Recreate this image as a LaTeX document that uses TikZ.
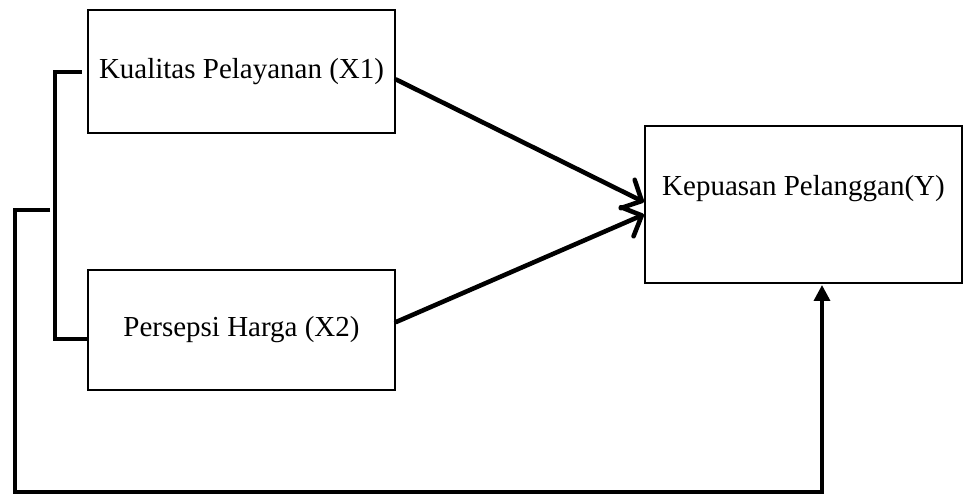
\documentclass[tikz,border=0pt]{standalone}
\usepackage{fontspec}
\setmainfont{Liberation Serif}
\usetikzlibrary{positioning,arrows.meta}
\tikzstyle{diagram} = [x = 0.02cm, y = -0.02cm, every node/.style={font=\fontsize{16.5}{20}\selectfont}]
\tikzstyle{boxStyle} = [draw, line width=1.3pt, rectangle, inner sep=0pt]
\tikzstyle{arrowStyle} = [line width=2.6pt, line cap=round, -{Straight Barb[length=9pt, width=18pt, line width=2.6pt, round]}]
\tikzstyle{bracketStyle} = [line width=2.1pt]
\tikzstyle{feedbackStyle} = [line width=2pt, -{Triangle[length=9pt, width=9pt]}]

\begin{document}
\begin{tikzpicture}[diagram]
      \useasboundingbox (0,0) rectangle (963,497);

      \node [boxStyle, minimum width=6.14cm, minimum height=2.46cm] (kualitas) at (241.5,71.5) {Kualitas Pelayanan (X1)};
      \node [boxStyle, minimum width=6.14cm, minimum height=2.4cm] (harga) at (241.5,330) {Persepsi Harga (X2)};
      \node [boxStyle, minimum width=6.34cm, minimum height=3.14cm] (kepuasan) at (803.5,204.5) {};
      \node (kepuasanText) at (803.5,189) {Kepuasan Pelanggan(Y)};

      \coordinate (bracketTop) at (52,72);
      \coordinate (bracketBottom) at (55,339);
      \coordinate (feedbackStart) at (50,210);
      \coordinate (feedbackCorner) at (822,492);

      \draw [arrowStyle] ([yshift=-0.16cm]kualitas.east) -- ([yshift=0.05cm]kepuasan.west);
      \draw [arrowStyle] ([yshift=0.16cm]harga.east) -- ([yshift=-0.2cm]kepuasan.west);

      \draw [bracketStyle] ([xshift=-0.1cm]kualitas.west |- bracketTop) -- (bracketTop -| bracketBottom) -- (bracketBottom) -- (harga.west |- bracketBottom);
      \draw [feedbackStyle] (feedbackStart) -- (15,210) |- (feedbackCorner) -- ([yshift=-0.5pt]kepuasan.south -| feedbackCorner);
    \end{tikzpicture}
\end{document}
